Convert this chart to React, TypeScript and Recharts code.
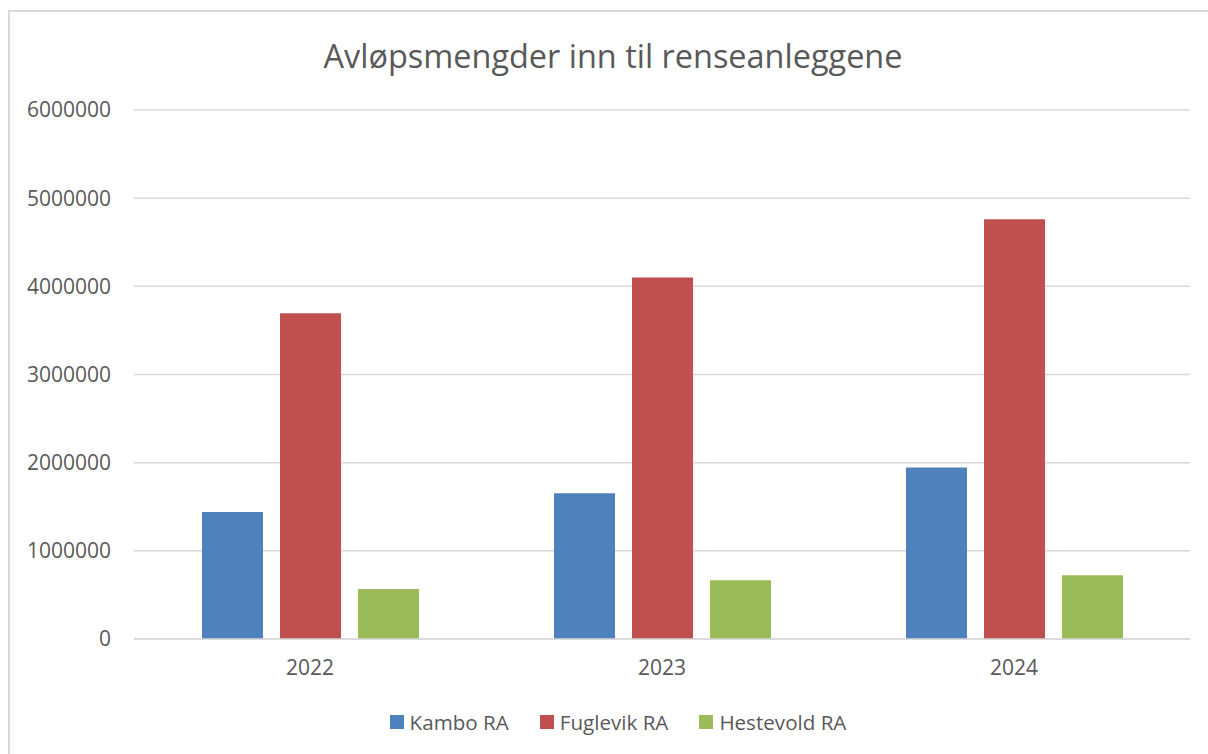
import React from 'react';
import { BarChart, Bar, XAxis, YAxis, CartesianGrid, Legend } from 'recharts';

const categories = ['2022', '2023', '2024'];
const kamboRA = [1440000, 1652000, 1944000];
const fuglevikRA = [3694000, 4100000, 4760000];
const hestevoldRA = [567000, 666000, 722000];
const yTicks = [0, 1000000, 2000000, 3000000, 4000000, 5000000, 6000000];
const seriesNames = ['Kambo RA', 'Fuglevik RA', 'Hestevold RA'];
const seriesColors = ['#4f81bd', '#c0504d', '#9bbb59'];

const data = categories.map((c, i) => ({
  year: c,
  kambo: kamboRA[i],
  fuglevik: fuglevikRA[i],
  hestevold: hestevoldRA[i],
}));

const FONT = '"Open Sans", "Noto Sans", sans-serif';

const LegendContent = () => (
  <div
    style={{
      height: 28,
      display: 'flex',
      justifyContent: 'center',
      alignItems: 'center',
      paddingLeft: 28,
      fontFamily: FONT,
      fontSize: 20.6,
      color: '#595959',
    }}
  >
    {seriesNames.map((n, i) => (
      <div key={n} style={{ display: 'flex', alignItems: 'center', marginRight: i < 2 ? 31 : 0 }}>
        <div style={{ width: 14, height: 14, background: seriesColors[i], marginRight: 6 }} />
        <span>{n}</span>
      </div>
    ))}
  </div>
);

export default function App() {
  return (
    <div style={{ position: 'absolute', left: 0, top: 0, width: 1208, height: 754, overflow: 'hidden', background: '#fff' }}>
      <div
        style={{
          position: 'absolute',
          left: 8,
          top: 10,
          width: 1230,
          height: 780,
          border: '2px solid #d9d9d9',
          boxSizing: 'border-box',
        }}
      />
      <svg style={{ position: 'absolute', left: 0, top: 0 }} width={1208} height={100}>
        <text
          x={613}
          y={68}
          textAnchor="middle"
          fontFamily={FONT}
          fontSize={33}
          fill="#595959"
          textLength={579}
          lengthAdjust="spacingAndGlyphs"
        >
          Avløpsmengder inn til renseanleggene
        </text>
      </svg>
      <div style={{ position: 'absolute', left: 0, top: 0 }}>
        <BarChart
          width={1208}
          height={754}
          data={data}
          margin={{ top: 110, right: 18, bottom: 57, left: 0 }}
          barGap={17}
          barSize={61}
        >
          <CartesianGrid vertical={false} stroke="#d9d9d9" strokeWidth={1.5} />
          <XAxis
            dataKey="year"
            height={30}
            axisLine={{ stroke: '#d9d9d9', strokeWidth: 1.5 }}
            tickLine={false}
            tickSize={0}
            tickMargin={21}
            tick={{ fill: '#595959', fontSize: 21, fontFamily: FONT }}
          />
          <YAxis
            width={134}
            domain={[0, 6000000]}
            ticks={yTicks}
            interval={0}
            axisLine={false}
            tickLine={false}
            tickSize={0}
            tickMargin={23}
            tick={{ fill: '#595959', fontSize: 21, fontFamily: FONT }}
          />
          <Legend
            verticalAlign="bottom"
            content={<LegendContent />}
            wrapperStyle={{ top: 708, left: 0, width: 1208, bottom: 'auto' }}
          />
          <Bar dataKey="kambo" name={seriesNames[0]} fill={seriesColors[0]} isAnimationActive={false} />
          <Bar dataKey="fuglevik" name={seriesNames[1]} fill={seriesColors[1]} isAnimationActive={false} />
          <Bar dataKey="hestevold" name={seriesNames[2]} fill={seriesColors[2]} isAnimationActive={false} />
        </BarChart>
      </div>
    </div>
  );
}
